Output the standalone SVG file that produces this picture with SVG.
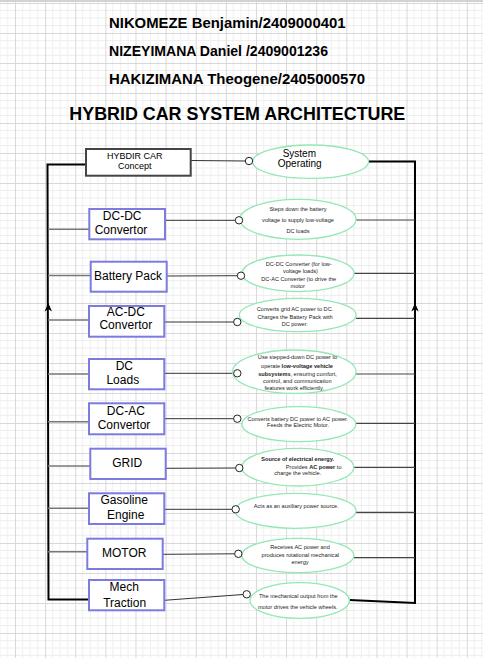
<svg xmlns="http://www.w3.org/2000/svg" width="483" height="658" viewBox="0 0 483 658">
<style>
text{font-family:"Liberation Sans",Arial,sans-serif;fill:#000}
.hd{font-size:15px;font-weight:bold}
.ttl{font-size:18px;font-weight:bold}
.box{fill:#fff;stroke:#7b7be0;stroke-width:2}
.bt{font-size:12px;text-anchor:middle}
.el{fill:#fff;stroke:#93e8b4;stroke-width:1.3}
.et{font-size:5.6px;text-anchor:middle;fill:#222}
.bus{fill:none;stroke:#000;stroke-width:2}
.lc{stroke:#777;stroke-width:1.5}
.rc{stroke:#444;stroke-width:1.2}
.mc{stroke:#333;stroke-width:1;fill:none}
.port{fill:#fff;stroke:#222;stroke-width:1}
.ah{fill:#000}
</style>
<defs>
<pattern id="g" patternUnits="userSpaceOnUse" x="15" y="3" width="30.12" height="30">
<path d="M7.53 0V30M15.06 0V30M22.59 0V30M0 7.5H30.12M0 15H30.12M0 22.5H30.12" stroke="#efefef" stroke-width="1" fill="none"/>
<path d="M0.5 0V30M0 0.5H30.12" stroke="#d8d8d8" stroke-width="1" fill="none"/>
</pattern>
</defs>
<rect width="483" height="658" fill="#fff"/>
<rect width="483" height="658" fill="url(#g)"/>
<rect width="483" height="2" fill="#d2d2d2"/>

<g id="header">
<text class="hd" x="109" y="28.3" textLength="236.5" lengthAdjust="spacingAndGlyphs">NIKOMEZE Benjamin/2409000401</text>
<text class="hd" x="109" y="56" textLength="219" lengthAdjust="spacingAndGlyphs">NIZEYIMANA Daniel /2409001236</text>
<text class="hd" x="109" y="84.3" textLength="256" lengthAdjust="spacingAndGlyphs">HAKIZIMANA Theogene/2405000570</text>
<text class="ttl" x="69.3" y="120" textLength="336" lengthAdjust="spacingAndGlyphs">HYBRID CAR SYSTEM ARCHITECTURE</text>
</g>

<g id="connectors">
<path class="bus" d="M86 164.5H47.5L48.5 599.5H89"/>
<path class="ah" d="M48.3 303L52 311.5L48.3 309L44.6 311.5Z"/>
<path class="bus" d="M368 161.5H415V603L349.3 600"/>
<path class="ah" d="M415 303L418.7 311.5L415 309L411.3 311.5Z"/>
<line class="lc" x1="48" y1="229.3" x2="89" y2="229.3"/>
<line class="lc" x1="48" y1="275.5" x2="90.5" y2="275.5"/>
<line class="lc" x1="48" y1="320" x2="89" y2="320"/>
<line class="lc" x1="48" y1="374" x2="89" y2="374"/>
<line class="lc" x1="48" y1="421.7" x2="89" y2="421.7"/>
<line class="lc" x1="48" y1="466" x2="90.3" y2="466"/>
<line class="lc" x1="48" y1="508.3" x2="89" y2="508.3"/>
<line class="lc" x1="48" y1="551.7" x2="87.3" y2="551.7"/>
<line class="rc" x1="355.7" y1="220" x2="415" y2="220"/>
<line class="rc" x1="354" y1="273.3" x2="415" y2="273.3"/>
<line class="rc" x1="356" y1="318.3" x2="415" y2="318.3"/>
<line class="rc" x1="356" y1="374" x2="415" y2="374"/>
<line class="rc" x1="356" y1="423.3" x2="415" y2="423.3"/>
<line class="rc" x1="354" y1="467.3" x2="415" y2="467.3"/>
<line class="rc" x1="356" y1="512.3" x2="415" y2="512.3"/>
<line class="rc" x1="354" y1="557.7" x2="415" y2="557.7"/>
<line class="mc" x1="190.7" y1="160.5" x2="245.3" y2="161"/>
<line class="mc" x1="165" y1="220.3" x2="235.3" y2="220.3"/>
<line class="mc" x1="166.7" y1="276" x2="237.3" y2="275.7"/>
<line class="mc" x1="164.3" y1="322" x2="233.6" y2="322"/>
<line class="mc" x1="164.3" y1="373.3" x2="233.6" y2="373.3"/>
<line class="mc" x1="164.3" y1="418.7" x2="233.6" y2="418.7"/>
<line class="mc" x1="165.7" y1="468.3" x2="235.6" y2="468"/>
<line class="mc" x1="164.3" y1="509.3" x2="232" y2="509.3"/>
<line class="mc" x1="162.7" y1="554.3" x2="234.6" y2="553.8"/>
<line class="mc" x1="164.3" y1="600.3" x2="243" y2="594.5"/>
</g>

<g id="n-concept"><rect x="86" y="149" width="104.7" height="26.7" fill="#fff" stroke="#444" stroke-width="2"/>
<text x="134.7" y="159.3" text-anchor="middle" font-size="9">HYBDIR CAR</text>
<text x="134.7" y="169.3" text-anchor="middle" font-size="9">Concept</text></g>
<g id="n-dcdc"><rect class="box" x="89.3" y="209" width="75.7" height="30.3"/>
<text class="bt" x="122.2" y="220">DC-DC</text><text class="bt" x="121" y="234.3">Convertor</text></g>
<g id="n-battery"><rect class="box" x="90.7" y="261.7" width="76" height="30"/>
<text class="bt" x="128" y="280">Battery Pack</text></g>
<g id="n-acdc"><rect class="box" x="89" y="306" width="75.3" height="30.7"/>
<text class="bt" x="125.8" y="316">AC-DC</text><text class="bt" x="125.8" y="329.3">Convertor</text></g>
<g id="n-dcloads"><rect class="box" x="89" y="359" width="75.3" height="30.3"/>
<text class="bt" x="124.3" y="370">DC</text><text class="bt" x="122.8" y="384">Loads</text></g>
<g id="n-dcac"><rect class="box" x="89" y="403.3" width="75.3" height="31"/>
<text class="bt" x="125.8" y="415">DC-AC</text><text class="bt" x="124" y="429.3">Convertor</text></g>
<g id="n-grid"><rect class="box" x="90.3" y="448.7" width="75.4" height="30.3"/>
<text class="bt" x="127.2" y="467.3">GRID</text></g>
<g id="n-engine"><rect class="box" x="89" y="493.3" width="75.3" height="30.7"/>
<text class="bt" x="124.2" y="504.3">Gasoline</text><text class="bt" x="125.7" y="519.3">Engine</text></g>
<g id="n-motor"><rect class="box" x="87.3" y="538.7" width="75.4" height="30.3"/>
<text class="bt" x="124.2" y="557.3">MOTOR</text></g>
<g id="n-traction"><rect class="box" x="89" y="580" width="75.3" height="30.3"/>
<text class="bt" x="124.2" y="590.7" font-size="13">Mech</text><text class="bt" x="124.7" y="607.3" font-size="13">Traction</text></g>

<g id="e-system"><ellipse class="el" cx="310.5" cy="161.7" rx="58" ry="16.7"/>
<text x="299.3" y="156.7" text-anchor="middle" font-size="10">System</text>
<text x="299.7" y="167.3" text-anchor="middle" font-size="10">Operating</text></g>
<g id="e-stepdown"><ellipse class="el" cx="298" cy="219.3" rx="58" ry="20"/>
<text class="et" x="298" y="211">Steps down the battery</text>
<text class="et" x="298" y="221.7">voltage to supply low-voltage</text>
<text class="et" x="298" y="232.7">DC loads</text></g>
<g id="e-battery"><ellipse class="el" cx="298" cy="273.3" rx="56" ry="18.3"/>
<text class="et" x="298.7" y="266">DC-DC Converter (for low-</text>
<text class="et" x="300.5" y="273.3">voltage loads)</text>
<text class="et" x="298.7" y="281">DC-AC Converter (to drive the</text>
<text class="et" x="297.7" y="287.7">motor</text></g>
<g id="e-acdc"><ellipse class="el" cx="297.7" cy="315" rx="58.3" ry="16.7"/>
<text class="et" x="295" y="310.5">Converts grid AC power to DC.</text>
<text class="et" x="295" y="319">Charges the Battery Pack with</text>
<text class="et" x="294.7" y="325.8">DC power.</text></g>
<g id="e-dcloads"><ellipse class="el" cx="294.3" cy="371.7" rx="61.7" ry="21.7"/>
<text class="et" x="297.5" y="359">Use stepped-down DC power to</text>
<text class="et" x="297" y="367.7">operate <tspan font-weight="bold">low-voltage vehicle</tspan></text>
<text class="et" x="297.5" y="375.7"><tspan font-weight="bold">subsystems</tspan>, ensuring comfort,</text>
<text class="et" x="297.3" y="382.7">control, and communication</text>
<text class="et" x="294.3" y="389.7">features work efficiently.</text></g>
<g id="e-dcac"><ellipse class="el" cx="298.8" cy="424.2" rx="57" ry="17.5"/>
<text class="et" x="297.8" y="420.7">Converts battery DC power to AC power.</text>
<text class="et" x="298" y="427.3">Feeds the Electric Motor.</text></g>
<g id="e-grid"><ellipse class="el" cx="297.8" cy="467.2" rx="56" ry="18.8"/>
<text class="et" x="297.7" y="461.3" font-weight="bold">Source of electrical energy.</text>
<text class="et" x="313.7" y="468.7">Provides <tspan font-weight="bold">AC power</tspan> to</text>
<text class="et" x="297.8" y="475.3">charge the vehicle.</text></g>
<g id="e-engine"><ellipse class="el" cx="295.5" cy="510.8" rx="60.5" ry="17.5"/>
<text class="et" x="296.3" y="508">Acts as an auxiliary power source.</text></g>
<g id="e-motor"><ellipse class="el" cx="297.8" cy="555.5" rx="56" ry="17.2"/>
<text class="et" x="300" y="548.7">Receives AC power and</text>
<text class="et" x="300.3" y="557.3">produces rotational mechanical</text>
<text class="et" x="300" y="564.3">energy</text></g>
<g id="e-traction"><ellipse class="el" cx="299.7" cy="600.5" rx="49.7" ry="17.8"/>
<text class="et" x="298.3" y="598">The mechanical output from the</text>
<text class="et" x="297.7" y="609.3">motor drives the vehicle wheels.</text></g>

<g id="ports">
<circle class="port" cx="249" cy="161" r="3.7"/>
<circle class="port" cx="239" cy="220.3" r="3.7"/>
<circle class="port" cx="241" cy="275.7" r="3.7"/>
<circle class="port" cx="237.3" cy="322" r="3.7"/>
<circle class="port" cx="237.3" cy="373.3" r="3.7"/>
<circle class="port" cx="237.3" cy="418.7" r="3.7"/>
<circle class="port" cx="239.3" cy="468" r="3.7"/>
<circle class="port" cx="235.7" cy="509.3" r="3.7"/>
<circle class="port" cx="238.3" cy="553.8" r="3.7"/>
<circle class="port" cx="246.7" cy="594.3" r="3.7"/>
</g>
</svg>
